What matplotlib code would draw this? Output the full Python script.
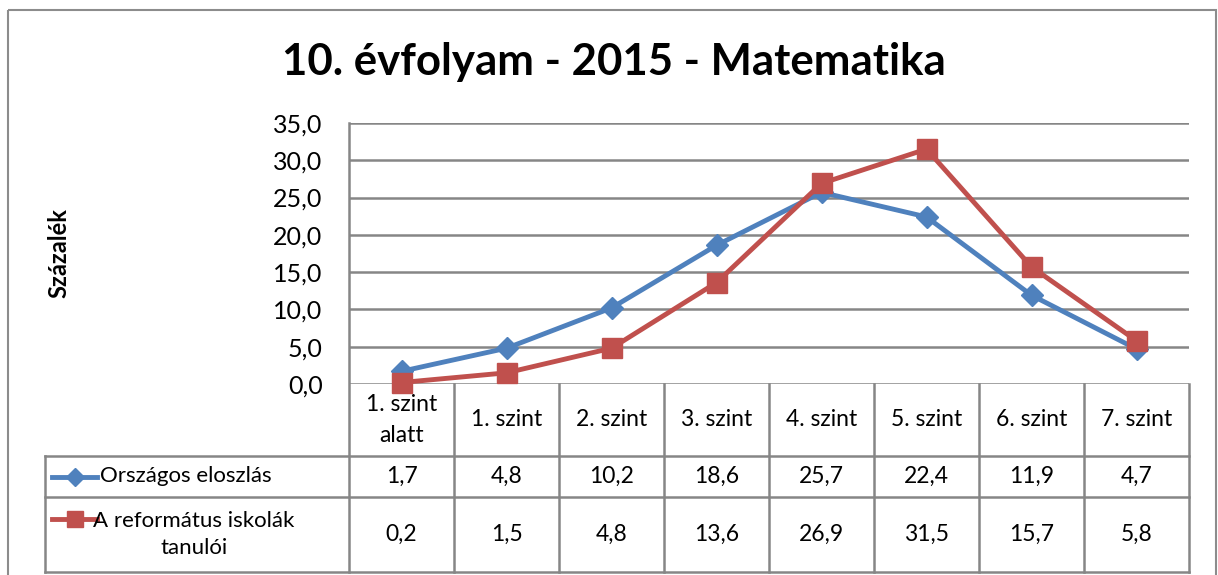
import numpy as np
import matplotlib
matplotlib.use("Agg")
from matplotlib import pyplot as plt
from matplotlib.lines import Line2D
from matplotlib.patches import Rectangle

plt.rcParams['font.family'] = ['Lato', 'DejaVu Sans']

# data
title = "10. évfolyam - 2015 - Matematika"
categories = ["1. szint\nalatt", "1. szint", "2. szint", "3. szint",
              "4. szint", "5. szint", "6. szint", "7. szint"]
series_names = ["Országos eloszlás", "A református iskolák\ntanulói"]
orszagos = [1.7, 4.8, 10.2, 18.6, 25.7, 22.4, 11.9, 4.7]
reformatus = [0.2, 1.5, 4.8, 13.6, 26.9, 31.5, 15.7, 5.8]
y_ticks = [0, 5, 10, 15, 20, 25, 30, 35]

blue = '#4F81BD'
red = '#C0504D'
grid_col = '#868686'

W, H = 1218, 575
fig = plt.figure(figsize=(W / 100, H / 100), dpi=100)

# pixel overlay for frame and data table
ov = fig.add_axes([0, 0, 1, 1], zorder=0)
ov.set_xlim(0, W)
ov.set_ylim(H, 0)
ov.axis('off')

# plot area in pixels
pl, pr, pt, pb = 349, 1189, 123, 384
tab_left = 45
row1, row2, tab_bot = 456, 497, 572
col_w = (pr - pl) / len(categories)

ax = fig.add_axes([pl / W, 1 - pb / H, (pr - pl) / W, (pb - pt) / H], zorder=2)
ax.patch.set_alpha(0)
x = np.arange(len(categories))
ax.plot(x, orszagos, color=blue, lw=3.5, marker='D', ms=11, clip_on=False, zorder=3)
ax.plot(x, reformatus, color=red, lw=3.5, marker='s', ms=14, clip_on=False, zorder=4)
ax.set_xlim(-0.5, len(categories) - 0.5)
ax.set_ylim(0, 35)
ax.set_yticks(y_ticks)
ax.set_yticklabels([f"{v:.1f}".replace('.', ',') for v in y_ticks], fontsize=18)
ax.tick_params(axis='y', length=0, pad=19)
ax.set_xticks([])
for s in ax.spines.values():
    s.set_visible(False)
ax.grid(axis='y', color=grid_col, lw=1.8)
ax.set_axisbelow(True)

# outer frame
ov.add_patch(Rectangle((8, 10), 1208, 600, fill=False, edgecolor='#8c8c8c', lw=1.5))

fig.text(614 / W, 1 - 62 / H, title, ha='center', va='center', fontsize=31.5, fontweight='bold')
fig.text(59 / W, 1 - 253 / H, "Százalék", ha='center', va='center', rotation=90,
         fontsize=17, fontweight='bold')

# table lines
lk = dict(color=grid_col, lw=1.8, zorder=1)
ov.plot([pl, pl], [pt, tab_bot], **lk)
for k in range(1, len(categories) + 1):
    xx = pl + k * col_w
    ov.plot([xx, xx], [pb, tab_bot], **lk)
ov.plot([tab_left, tab_left], [row1, tab_bot], **lk)
for yy in (row1, row2, tab_bot):
    ov.plot([tab_left, pr], [yy, yy], **lk)

# table text
for i, c in enumerate(categories):
    cx = pl + (i + 0.5) * col_w
    ov.text(cx, (pb + row1) / 2, c, ha='center', va='center', fontsize=16.5, linespacing=1.55)
    ov.text(cx, (row1 + row2) / 2, f"{orszagos[i]:.1f}".replace('.', ','),
            ha='center', va='center', fontsize=16.5)
    ov.text(cx, (row2 + tab_bot) / 2, f"{reformatus[i]:.1f}".replace('.', ','),
            ha='center', va='center', fontsize=16.5)

# legend keys in table
ov.add_line(Line2D([52, 74.5, 97], [477, 477, 477], color=blue, lw=3.5, marker='D', ms=9,
                   markevery=[1], zorder=3))
ov.add_line(Line2D([52, 74.5, 97], [519, 519, 519], color=red, lw=3.5, marker='s', ms=12,
                   markevery=[1], zorder=3))
ov.text(100, (row1 + row2) / 2, series_names[0], ha='left', va='center', fontsize=16)
ov.text(194, (row2 + tab_bot) / 2, series_names[1], ha='center', va='center',
        fontsize=16, linespacing=1.4)

fig.savefig("out.png", dpi=100)
